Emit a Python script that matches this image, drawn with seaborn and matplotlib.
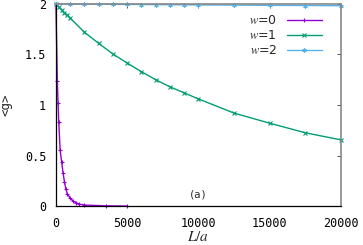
import numpy as np
import pandas as pd
import seaborn as sb
import matplotlib.pyplot as plt

# w=0 : fast decay
L0 = [0, 100, 150, 200, 300, 400, 500, 600, 700, 800, 1000, 1200, 1400, 1600, 2000, 3500, 5000]
g0 = [2.0, 1.24, 1.02, 0.83, 0.55, 0.44, 0.33, 0.24, 0.17, 0.12, 0.08, 0.05, 0.035, 0.02, 0.01, 0.002, 0.0]

# w=1 : slow decay
L1 = [0, 200, 400, 600, 800, 1000, 2000, 3000, 4000, 5000, 6000, 7000, 8000, 9000, 10000,
      12500, 15000, 17500, 20000]
g1 = [2.0, 1.97, 1.94, 1.91, 1.89, 1.86, 1.72, 1.61, 1.505, 1.415, 1.33, 1.25, 1.18, 1.12, 1.06,
      0.92, 0.82, 0.725, 0.655]

# w=2 : almost flat
L2 = [0, 1000, 2000, 3000, 4000, 5000, 6000, 7000, 8000, 9000, 10000, 12500, 15000, 17500, 20000]
g2 = [2.0, 1.999, 1.998, 1.997, 1.996, 1.995, 1.994, 1.993, 1.992, 1.991, 1.99, 1.988, 1.986, 1.984, 1.982]

sb.set_style('white')
plt.rcParams['mathtext.fontset'] = 'stix'
plt.rcParams['font.family'] = ['DejaVu Sans']

fig = plt.figure(figsize=(3.63, 2.45), dpi=100)
ax = fig.add_axes([0.154, 0.159, 0.785, 0.825])

aster = (6, 2, 0)
series = [(L0, g0, '$w$=0', '#9400d3', '+'),
          (L1, g1, '$w$=1', '#009e73', 'x'),
          (L2, g2, '$w$=2', '#56b4e9', aster)]
for L, g, lab, col, mk in series:
    sb.lineplot(x=L, y=g, ax=ax, color=col, marker=mk, markersize=3, markeredgewidth=0.8,
                linewidth=1.0, label=lab, clip_on=False, markeredgecolor=col)

ax.set_xlim(0, 20000)
ax.set_ylim(0, 2)
ax.set_xticks([0, 5000, 10000, 15000, 20000])
ax.set_yticks([0, 0.5, 1, 1.5, 2])
ax.set_yticklabels(['0', '0.5', '1', '1.5', '2'])
mono = 'DejaVu Sans Mono'
for t in ax.get_xticklabels() + ax.get_yticklabels():
    t.set_family(mono)
    t.set_fontsize(8.5)
ax.tick_params(direction='in', length=3, width=0.6, top=True, right=True, colors='#333333')
ax.tick_params(axis='x', pad=8)
ax.tick_params(axis='y', pad=7)
ax.tick_params(labelcolor='black')

for s in ['left', 'bottom']:
    ax.spines[s].set_color('black')
    ax.spines[s].set_linewidth(0.9)
for s in ['top', 'right']:
    ax.spines[s].set_color('#888888')
    ax.spines[s].set_linewidth(1.2)

ax.set_xlabel('$L/a$', fontsize=11, labelpad=-1)
ax.set_ylabel('<g>', family=mono, fontsize=9, labelpad=9)
ax.text(10000, 0.06, '(a)', family=mono, fontsize=7.5, ha='center', va='bottom')

leg = ax.legend(loc='upper right', bbox_to_anchor=(0.96, 0.985), frameon=False, markerfirst=False,
                fontsize=9, handlelength=2.8, labelspacing=0.15, borderaxespad=0.2)
for t in leg.get_texts():
    t.set_ha('right')

plt.savefig('out.png', dpi=100)
